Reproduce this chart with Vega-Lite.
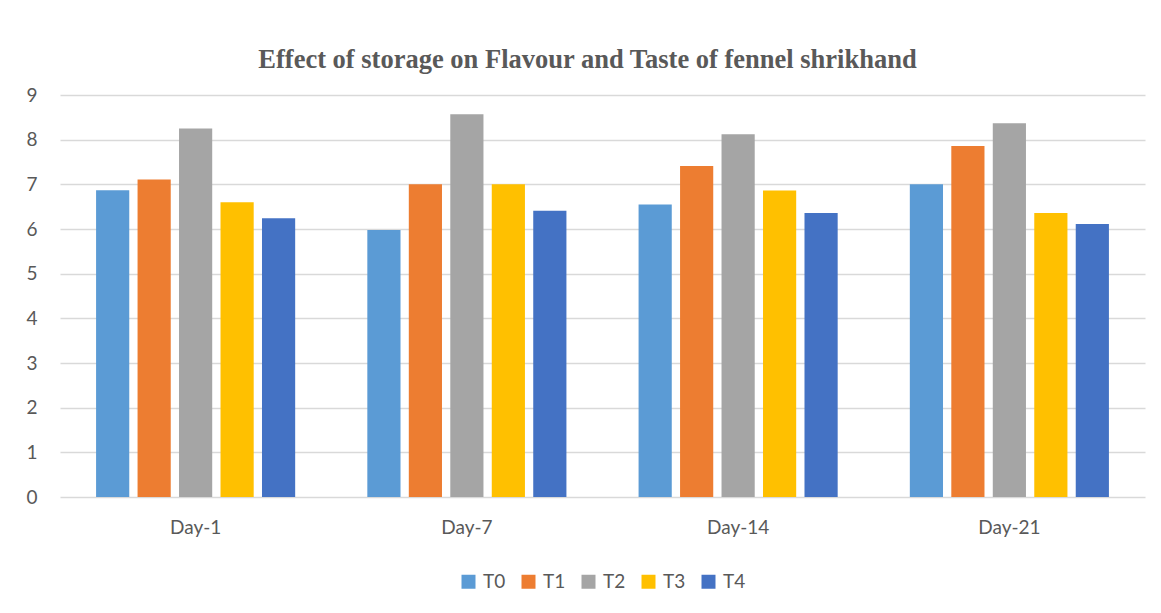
{
  "$schema": "https://vega.github.io/schema/vega-lite/v6.json",
  "autosize": "none",
  "width": 1085,
  "height": 402,
  "padding": {"left": 60, "top": 95, "right": 16, "bottom": 116},
  "background": "white",
  "title": {
    "text": "Effect of storage on Flavour and Taste of fennel shrikhand",
    "font": "Liberation Serif",
    "fontSize": 26.5,
    "fontWeight": "bold",
    "color": "#595959",
    "anchor": "middle",
    "dx": -15,
    "offset": 13
  },
  "data": {
    "values": [
      {"day": "Day-1", "treatment": "T0", "score": 6.87},
      {"day": "Day-1", "treatment": "T1", "score": 7.11},
      {"day": "Day-1", "treatment": "T2", "score": 8.25},
      {"day": "Day-1", "treatment": "T3", "score": 6.60},
      {"day": "Day-1", "treatment": "T4", "score": 6.24},
      {"day": "Day-7", "treatment": "T0", "score": 5.98},
      {"day": "Day-7", "treatment": "T1", "score": 7.00},
      {"day": "Day-7", "treatment": "T2", "score": 8.57},
      {"day": "Day-7", "treatment": "T3", "score": 7.00},
      {"day": "Day-7", "treatment": "T4", "score": 6.41},
      {"day": "Day-14", "treatment": "T0", "score": 6.55},
      {"day": "Day-14", "treatment": "T1", "score": 7.41},
      {"day": "Day-14", "treatment": "T2", "score": 8.12},
      {"day": "Day-14", "treatment": "T3", "score": 6.86},
      {"day": "Day-14", "treatment": "T4", "score": 6.36},
      {"day": "Day-21", "treatment": "T0", "score": 7.00},
      {"day": "Day-21", "treatment": "T1", "score": 7.86},
      {"day": "Day-21", "treatment": "T2", "score": 8.37},
      {"day": "Day-21", "treatment": "T3", "score": 6.36},
      {"day": "Day-21", "treatment": "T4", "score": 6.11}
    ]
  },
  "mark": {"type": "bar"},
  "encoding": {
    "x": {
      "field": "day",
      "type": "nominal",
      "sort": ["Day-1", "Day-7", "Day-14", "Day-21"],
      "scale": {"paddingInner": 0.266, "paddingOuter": 0.133},
      "axis": {
        "title": null,
        "labelAngle": 0,
        "labelFont": "Lato",
        "labelFontSize": 19,
        "labelColor": "#595959",
        "labelPadding": 21,
        "ticks": false,
        "domain": false,
        "grid": false
      }
    },
    "xOffset": {
      "field": "treatment",
      "type": "nominal",
      "sort": ["T0", "T1", "T2", "T3", "T4"],
      "scale": {"paddingInner": 0.2, "paddingOuter": 0}
    },
    "y": {
      "field": "score",
      "type": "quantitative",
      "scale": {"domain": [0, 9], "nice": false},
      "axis": {
        "title": null,
        "values": [0, 1, 2, 3, 4, 5, 6, 7, 8, 9],
        "labelFont": "Lato",
        "labelFontSize": 19,
        "labelColor": "#595959",
        "labelPadding": 23,
        "ticks": false,
        "domain": false,
        "grid": true,
        "gridColor": "#d9d9d9",
        "gridWidth": 1.3
      }
    },
    "color": {
      "field": "treatment",
      "type": "nominal",
      "sort": ["T0", "T1", "T2", "T3", "T4"],
      "scale": {
        "domain": ["T0", "T1", "T2", "T3", "T4"],
        "range": ["#5B9BD5", "#ED7D31", "#A5A5A5", "#FFC000", "#4472C4"]
      },
      "legend": {
        "title": null,
        "orient": "bottom",
        "direction": "horizontal",
        "symbolType": "square",
        "symbolSize": 196,
        "symbolStrokeWidth": 0,
        "labelFont": "Lato",
        "labelFontSize": 19,
        "labelColor": "#595959",
        "columnPadding": 13,
        "labelOffset": 5,
        "offset": 35
      }
    }
  },
  "config": {
    "view": {"stroke": null},
    "legend": {"layout": {"bottom": {"anchor": "middle"}}}
  }
}
